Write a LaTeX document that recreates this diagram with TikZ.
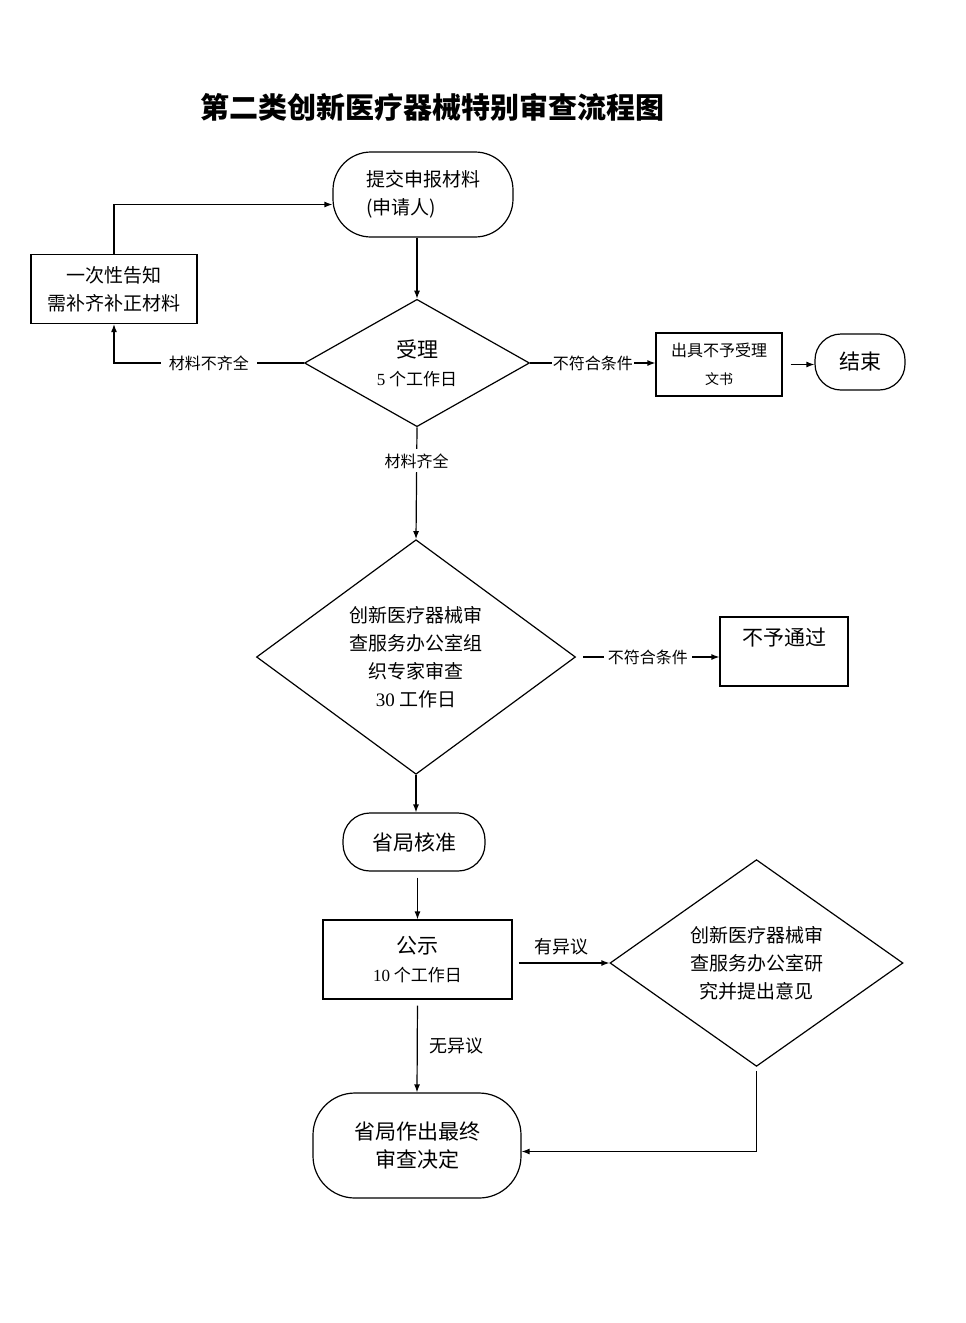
\documentclass[tikz,border=0pt]{standalone}
\usepackage{fontspec}
\setmainfont{Noto Sans CJK SC}
\newfontfamily\numfont{Liberation Serif}
\usetikzlibrary{arrows, arrows.meta, shapes, shapes.geometric, positioning, calc}
\tikzset{
	process/.style={rectangle, draw, line width=1.2pt, inner sep=0pt, align=center, font=\fontsize{19}{28}\selectfont},
	terminal/.style={process, rounded corners=#1},
	terminal/.default=26pt,
	decision/.style={diamond, draw, line width=1.2pt, inner sep=0pt, align=center, font=\fontsize{19}{28}\selectfont},
	line/.style={draw, line width=1.2pt, -{Latex[length=8pt, width=6pt]}},
	tag/.style={fill=white, inner sep=4pt, font=\fontsize{16}{20}\selectfont}
}

\begin{document}
\begin{tikzpicture}[x=1pt, y=-1pt]
		% page frame, pixel units
		\useasboundingbox (0,0) rectangle (966,1323);
		
		% Title
		\node (title) at (432, 107) {\fontsize{29}{32}\selectfont\bfseries 第二类创新医疗器械特别审查流程图};
		
		% Upper part: submission and acceptance
		\node (submit) at (423, 194.5) [terminal=38pt, minimum width=180pt, minimum height=85pt, align=left] {提交申报材料\\(申请人)};
		\node (notify) at (114, 289) [process, minimum width=166pt, minimum height=69pt] {一次性告知\\需补齐补正材料};
		\node (accept) at (417, 363) [decision, minimum width=225pt, minimum height=116pt] {{\fontsize{21}{28}\selectfont 受理}\\{\fontsize{17}{26}\selectfont {\numfont 5} 个工作日}};
		\node (outbox) at (719, 364.5) [process, minimum width=126pt, minimum height=63pt] {{\fontsize{16}{27}\selectfont 出具不予受理}\\{\fontsize{14}{24}\selectfont 文书}};
		\node (end) at (860, 362) [terminal=26pt, minimum width=90pt, minimum height=56pt, font=\fontsize{21}{26}\selectfont] {结束};
		
		% Expert review
		\node (review) at (416, 657) [decision, minimum width=319pt, minimum height=232pt] {创新医疗器械审\\查服务办公室组\\织专家审查\\{\numfont 30} 工作日};
		\node (reject) at (784, 651.5) [process, minimum width=128pt, minimum height=69pt, font=\fontsize{21}{26}\selectfont, text height=17pt, text depth=29pt] {不予通过};
		
		% Lower part: approval and publication
		\node (approve) at (414, 842) [terminal=27pt, minimum width=142pt, minimum height=58pt, font=\fontsize{21}{26}\selectfont] {省局核准};
		\node (publish) at (417.5, 959.5) [process, minimum width=189pt, minimum height=79pt] {{\fontsize{21}{28}\selectfont 公示}\\{\fontsize{17}{26}\selectfont {\numfont 10} 个工作日}};
		\node (study) at (756.5, 963) [decision, minimum width=293pt, minimum height=194pt] {创新医疗器械审\\查服务办公室研\\究并提出意见};
		\node (final) at (417, 1145.5) [terminal=42pt, minimum width=208pt, minimum height=105pt, font=\fontsize{21}{28}\selectfont] {省局作出最终\\审查决定};
		
		% Connectors
		\draw[line] (accept.north |- submit.south) -- (accept.north);
		\draw[line] (accept.west) -- node[tag, inner sep=8pt] {材料不齐全} (accept.west -| notify.south) -- (notify.south);
		\draw[line] (notify.north) |- ([yshift=-10pt]submit.west);
		\draw[line] (accept.east) -- node[tag, inner sep=1pt] {不符合条件} (accept.east -| outbox.west);
		\draw[line, shorten <=8pt] (outbox.east) -- (outbox.east -| end.west);
		\draw[line] (accept.south) -- node[tag, pos=0.3] {材料齐全} (review.north);
		\draw[line, shorten <=7pt] (review.east) -- node[tag] {不符合条件} (reject.west |- review.east);
		\draw[line] (review.south) -- (review.south |- approve.north);
		\draw[line, shorten <=6pt] (publish.north |- approve.south) -- (publish.north);
		\draw[line, shorten <=6pt] (publish.east |- study.west) -- node[above=4pt, font=\fontsize{18}{22}\selectfont] (objtag) {有异议} (study.west);
		\draw[line, shorten <=6pt] (publish.south) -- node[right=8pt, font=\fontsize{18}{22}\selectfont] (noobjtag) {无异议} (final.north);
		\draw[line, shorten <=4pt] (study.south) |- ([yshift=-6pt]final.east);
		
	\end{tikzpicture}
\end{document}
